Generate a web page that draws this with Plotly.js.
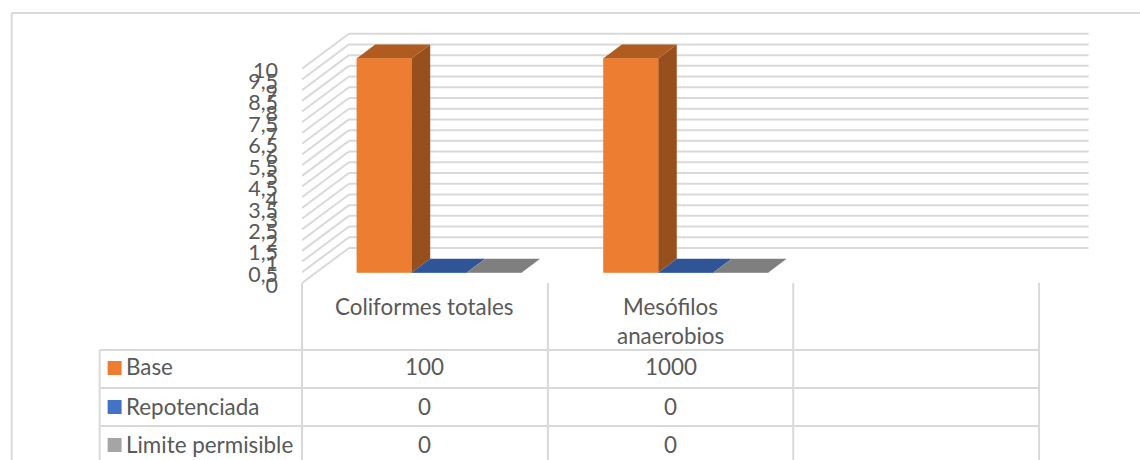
<!DOCTYPE html>
<html>
<head>
<meta charset="utf-8">
<script src="https://cdn.plot.ly/plotly-3.0.1.min.js"></script>
<style>
  html, body { margin: 0; padding: 0; background: #fff; overflow: hidden; }
  #chart { width: 1140px; height: 460px; }
</style>
</head>
<body>
<div id="chart"></div>
<script>
// Chart values
const categories = ["Coliformes totales", "Mesófilos anaerobios", ""];
const categoryLines = [["Coliformes totales"], ["Mesófilos", "anaerobios"], []];
const seriesNames = ["Base", "Repotenciada", "Limite permisible"];
const baseValues = [100, 1000];
const repotenciadaValues = [0, 0];
const limiteValues = [0, 0];
const tickValues = [0, 0.5, 1, 1.5, 2, 2.5, 3, 3.5, 4, 4.5, 5, 5.5, 6, 6.5, 7, 7.5, 8, 8.5, 9, 9.5, 10];
const tickLabels = ["0", "0,5", "1", "1,5", "2", "2,5", "3", "3,5", "4", "4,5", "5", "5,5", "6", "6,5", "7", "7,5", "8", "8,5", "9", "9,5", "10"];
const frontColors = ["#ED7D31", "#4472C4", "#A5A5A5"];
const sideColors = ["#974F1D", "#2B4A80", "#6A6A6A"];
const topColors = ["#B05C21", "#2F5597", "#7F7F7F"];

// Page and plot geometry in pixels
const W = 1140, H = 460;
const plotLeft = 301.5, plotBottom = 283;
const unitX = 246.7, unitY = 21.43;       // pixels per category and per value unit
const depthPxX = 47, depthPxY = 35;       // oblique shift from front plane to back wall
const depthX = depthPxX / unitX, depthY = depthPxY / unitY;
const barDepthStart = 0.3, barDepthLen = 0.39;
const barWidth = 55 / unitX;
const axisMax = 10;

const xRange = [0, (W - plotLeft) / unitX];
const yRange = [0, plotBottom / unitY];

// Pixel helpers for the frame and the data table
const px = v => (v - plotLeft) / (W - plotLeft);
const py = v => (plotBottom - v) / plotBottom;

const grey = "#D9D9D9";
const textColor = "#595959";
const fontFamily = "Lato, 'Open Sans', sans-serif";

const allSeries = [baseValues, repotenciadaValues, limiteValues];
const barBase = barDepthStart * depthY;
const barShift = barDepthStart * depthX;

const traces = [];

// Front faces are ordinary bars; values past the axis maximum are cut at the axis
allSeries.forEach((vals, s) => {
  traces.push({
    type: "bar",
    name: seriesNames[s],
    x: vals.map((_, i) => i + 0.5 + barShift + (s - 1) * barWidth),
    y: vals.map(v => Math.min(v, axisMax)),
    base: vals.map(() => barBase),
    width: vals.map(() => barWidth),
    marker: { color: frontColors[s], line: { color: frontColors[s], width: 0.6 } },
    hoverinfo: "skip"
  });
});

// Side and top faces of every bar, projected along the depth direction
const dx = barDepthLen * depthX, dy = barDepthLen * depthY;
allSeries.forEach((vals, s) => {
  vals.forEach((v, i) => {
    const h = Math.min(v, axisMax);
    const xl = i + 0.5 + barShift + (s - 1) * barWidth - barWidth / 2;
    const xr = xl + barWidth;
    const b = barBase, t = barBase + h;
    if (h > 0) {
      traces.push({
        type: "scatter", mode: "lines", fill: "toself",
        x: [xr, xr, xr + dx, xr + dx, xr], y: [b, t, t + dy, b + dy, b],
        fillcolor: sideColors[s], line: { width: 0 }, hoverinfo: "skip", showlegend: false
      });
    }
    traces.push({
      type: "scatter", mode: "lines", fill: "toself",
      x: [xl, xr, xr + dx, xl + dx, xl], y: [t, t, t + dy, t + dy, t],
      fillcolor: topColors[s], line: { width: 0 }, hoverinfo: "skip", showlegend: false
    });
  });
});

// Back wall grid with its slanted floor-side segments
const shapes = [];
const gridLine = { color: grey, width: 2 };
tickValues.forEach(v => {
  shapes.push({ type: "line", layer: "below", xref: "x", yref: "y",
    x0: 0, y0: v, x1: depthX, y1: v + depthY, line: gridLine });
  shapes.push({ type: "line", layer: "below", xref: "x", yref: "y",
    x0: depthX, y0: v + depthY, x1: categories.length + depthX, y1: v + depthY, line: gridLine });
});

function pxLine(x0, y0, x1, y1) {
  shapes.push({ type: "line", layer: "below", xref: "paper", yref: "paper",
    x0: px(x0), y0: py(y0), x1: px(x1), y1: py(y1), line: { color: grey, width: 2 } });
}

// Outer frame
pxLine(11, 13, 1140, 13);
pxLine(11, 13, 11, 460);

// Data table ruling
const colX = [301.5, 547.5, 793, 1039];
const rowY = [350, 388, 426];
colX.forEach(x => pxLine(x, plotBottom, x, 460));
pxLine(99, rowY[0], 99, 460);
rowY.forEach(y => pxLine(99, y, colX[3], y));

// Data table text
const annotations = [];
const cellFont = { family: fontFamily, size: 22.4, color: textColor };
function label(x, y, text, anchor) {
  annotations.push({ xref: "paper", yref: "paper", x: px(x), y: py(y), text: String(text),
    showarrow: false, xanchor: anchor, yanchor: "middle", font: cellFont,
    borderpad: 0, borderwidth: 0 });
}

const colCenter = i => (colX[i] + colX[i + 1]) / 2;
categoryLines.forEach((lines, i) => {
  lines.forEach((line, k) => label(colCenter(i), 306.5 + 29 * k, line, "center"));
});

const rowCenter = [368, 407, 445];
seriesNames.forEach((name, s) => {
  shapes.push({ type: "rect", layer: "above", xref: "paper", yref: "paper",
    x0: px(107), x1: px(121), y0: py(rowCenter[s] - 7), y1: py(rowCenter[s] + 7),
    fillcolor: frontColors[s], line: { width: 0 } });
  label(125.5, rowCenter[s] - 1, name, "left");
  allSeries[s].forEach((v, i) => label(colCenter(i), rowCenter[s] - 1, v, "center"));
});

const layout = {
  width: W,
  height: H,
  margin: { l: plotLeft, r: 0, t: 0, b: H - plotBottom, pad: 0, autoexpand: false },
  paper_bgcolor: "#FFFFFF",
  plot_bgcolor: "rgba(0,0,0,0)",
  showlegend: false,
  barmode: "overlay",
  xaxis: { range: xRange, showgrid: false, zeroline: false, showline: false,
    showticklabels: false, ticks: "", fixedrange: true },
  yaxis: { range: yRange, showgrid: false, zeroline: false, showline: false,
    tickmode: "array", tickvals: tickValues, ticktext: tickLabels, ticks: "",
    ticklabelstandoff: 23, ticklabelshift: 2,
    tickfont: { family: fontFamily, size: 21.5, color: textColor }, fixedrange: true },
  shapes,
  annotations
};

Plotly.newPlot("chart", traces, layout, { displayModeBar: false, staticPlot: true });
</script>
</body>
</html>
